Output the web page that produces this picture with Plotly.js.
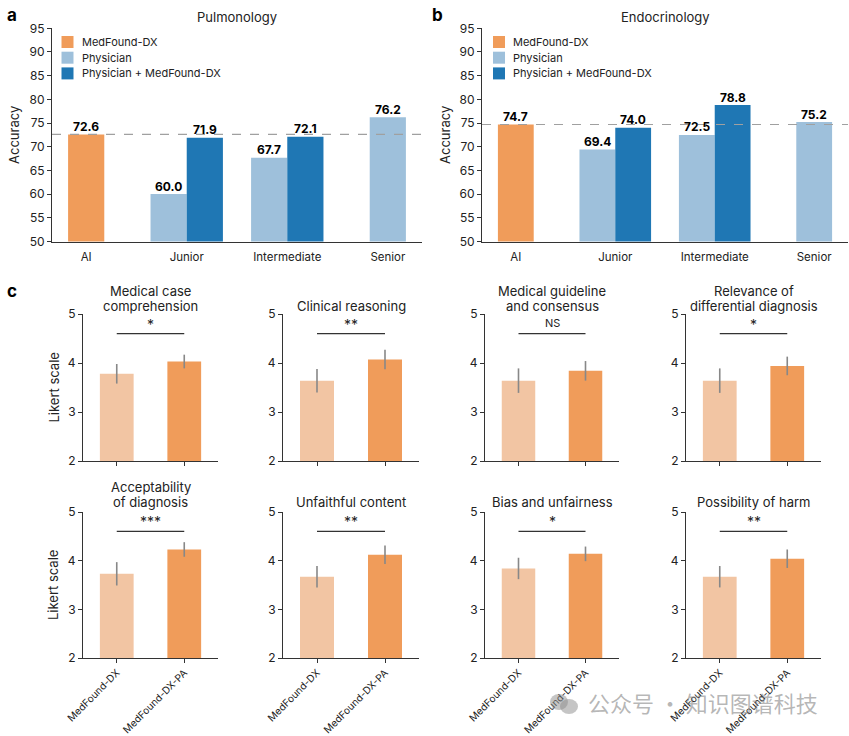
<!DOCTYPE html>
<html>
<head>
<meta charset="utf-8">
<script src="https://cdn.plot.ly/plotly-3.0.1.min.js"></script>
<style>html,body{margin:0;padding:0;background:#fff;}#chart{width:849px;height:736px;}</style>
</head>
<body>
<div id="chart"></div>
<script>
// ---------- Data ----------
const groupCats = ['AI', 'Junior', 'Intermediate', 'Senior'];
const seriesNames = ['MedFound-DX', 'Physician', 'Physician + MedFound-DX'];

const pulmoTitle = 'Pulmonology';
const pulmoAI = [72.6];
const pulmoPhysCats = ['Junior', 'Intermediate', 'Senior'];
const pulmoPhys = [60.0, 67.7, 76.2];
const pulmoComboCats = ['Junior', 'Intermediate'];
const pulmoCombo = [71.9, 72.1];

const endoTitle = 'Endocrinology';
const endoAI = [74.7];
const endoPhysCats = ['Junior', 'Intermediate', 'Senior'];
const endoPhys = [69.4, 72.5, 75.2];
const endoComboCats = ['Junior', 'Intermediate'];
const endoCombo = [74.0, 78.8];

const likertCats = ['MedFound-DX', 'MedFound-DX-PA'];
const criteria = ['Medical case<br>comprehension', 'Clinical reasoning', 'Medical guideline<br>and consensus',
  'Relevance of<br>differential diagnosis', 'Acceptability<br>of diagnosis', 'Unfaithful content',
  'Bias and unfairness', 'Possibility of harm'];
const dxMean = [3.78, 3.64, 3.64, 3.64, 3.73, 3.67, 3.84, 3.67];
const dxErr  = [0.20, 0.24, 0.25, 0.25, 0.24, 0.22, 0.22, 0.22];
const paMean = [4.03, 4.07, 3.84, 3.94, 4.23, 4.12, 4.14, 4.04];
const paErr  = [0.14, 0.20, 0.20, 0.19, 0.15, 0.19, 0.15, 0.19];
const sigLabels = ['*', '**', 'NS', '*', '***', '**', '*', '**'];
const sigLevel = 4.6;

// ---------- Styles ----------
const W = 849, H = 736;
const FONT = 'Inter, "Liberation Sans", Arial, sans-serif';
const C_ORANGE = '#F09C5A';
const C_LORANGE = '#F2C5A3';
const C_LBLUE = '#9EC0DB';
const C_DBLUE = '#1F77B4';
const C_AXIS = '#333333';
const C_TEXT = '#222222';
const seriesColors = [C_ORANGE, C_LBLUE, C_DBLUE];
const px = v => v / W;
const py = v => 1 - v / H;

const traces = [];
const shapes = [];
const annotations = [];
const layout = {
  width: W, height: H,
  margin: {l: 0, r: 0, t: 0, b: 0},
  paper_bgcolor: '#fff', plot_bgcolor: '#fff',
  font: {family: FONT, color: C_TEXT, size: 12},
  barmode: 'overlay',
  showlegend: false,
  shapes: shapes,
  annotations: annotations
};

// ---------- Panels a & b ----------
const BW = 0.36;
function accuracyPanel(idx, xdom, title, ai, physCats, phys, comboCats, combo, letter, letterX, yTitleX, legX) {
  const xa = 'x' + (idx === 1 ? '' : idx), ya = 'y' + (idx === 1 ? '' : idx);
  const series = [
    {cats: ['AI'], vals: ai, offs: [-BW / 2]},
    {cats: physCats, vals: phys, offs: physCats.map(c => comboCats.includes(c) ? -BW : -BW / 2)},
    {cats: comboCats, vals: combo, offs: comboCats.map(() => 0)}
  ];
  series.forEach((s, k) => {
    traces.push({
      type: 'bar', name: seriesNames[k], x: s.cats, y: s.vals, width: BW, offset: s.offs,
      marker: {color: seriesColors[k]}, xaxis: xa, yaxis: ya
    });
    // value labels above bars
    s.cats.forEach((c, j) => {
      annotations.push({
        text: '<b>' + s.vals[j].toFixed(1) + '</b>', xref: xa, yref: ya,
        x: groupCats.indexOf(c) + s.offs[j] + BW / 2, y: s.vals[j], yanchor: 'bottom', xanchor: 'center',
        yshift: -1.5, showarrow: false, font: {size: 12, color: '#000'}
      });
    });
  });
  const xk = 'xaxis' + (idx === 1 ? '' : idx), yk = 'yaxis' + (idx === 1 ? '' : idx);
  layout[xk] = {
    domain: xdom, anchor: ya, type: 'category', categoryorder: 'array', categoryarray: groupCats,
    range: [-0.34, 3.34], showline: true, linecolor: C_AXIS, linewidth: 1,
    ticks: 'outside', ticklen: 5, tickcolor: 'rgba(0,0,0,0)',
    tickfont: {size: 11.5, color: C_TEXT}, showgrid: false, zeroline: false, fixedrange: true
  };
  layout[yk] = {
    domain: [py(241.5), py(28.3)], anchor: xa, range: [50, 95], dtick: 5, tick0: 50,
    showline: true, linecolor: C_AXIS, linewidth: 1, ticks: 'outside', ticklen: 4, tickcolor: C_AXIS,
    tickfont: {size: 12, color: C_TEXT}, showgrid: false, zeroline: false, fixedrange: true
  };
  shapes.push({type: 'line', xref: xa + ' domain', yref: ya, x0: 0, x1: 1, y0: ai[0], y1: ai[0],
    line: {color: '#a0a0a0', width: 1.2, dash: 'dash'}, layer: 'above'});
  annotations.push({text: title, xref: 'paper', yref: 'paper', x: (xdom[0] + xdom[1]) / 2, y: py(17),
    showarrow: false, font: {size: 13, color: C_TEXT}, xanchor: 'center', yanchor: 'middle'});
  annotations.push({text: '<b>' + letter + '</b>', xref: 'paper', yref: 'paper', x: px(letterX), y: py(15),
    showarrow: false, font: {size: 17, color: '#000'}, xanchor: 'center', yanchor: 'middle'});
  annotations.push({text: 'Accuracy', xref: 'paper', yref: 'paper', x: px(yTitleX), y: py(135), textangle: -90,
    showarrow: false, font: {size: 13, color: C_TEXT}, xanchor: 'center', yanchor: 'middle'});
  // legend (swatches + labels)
  seriesNames.forEach((nm, k) => {
    const cy = 42 + k * 15.7;
    shapes.push({type: 'rect', xref: 'paper', yref: 'paper', x0: px(legX), x1: px(legX + 12),
      y0: py(cy + 6), y1: py(cy - 6), fillcolor: seriesColors[k], line: {width: 0}});
    annotations.push({text: nm, xref: 'paper', yref: 'paper', x: px(legX + 18), y: py(cy),
      showarrow: false, xanchor: 'left', yanchor: 'middle', font: {size: 11, color: C_TEXT}});
  });
}
accuracyPanel(1, [px(52), px(422)], pulmoTitle, pulmoAI, pulmoPhysCats, pulmoPhys, pulmoComboCats, pulmoCombo, 'a', 12, 14, 61.5);
accuracyPanel(2, [px(482), px(848)], endoTitle, endoAI, endoPhysCats, endoPhys, endoComboCats, endoCombo, 'b', 437, 445, 493);

// ---------- Panel c ----------
const colX = [[83, 218], [283, 419], [485, 619], [686, 821]];
const rowY = [[314, 461], [512, 658]];
const titleY2 = [[291, 306], [487, 502]];
criteria.forEach((crit, i) => {
  const idx = i + 3;
  const r = Math.floor(i / 4), c = i % 4;
  const xa = 'x' + idx, ya = 'y' + idx;
  traces.push({
    type: 'bar', x: likertCats, y: [dxMean[i], paMean[i]], width: 0.5,
    marker: {color: [C_LORANGE, C_ORANGE]}, xaxis: xa, yaxis: ya, showlegend: false,
    error_y: {type: 'data', array: [dxErr[i], paErr[i]], color: '#888888', thickness: 1.6, width: 0},
    hoverinfo: 'x+y'
  });
  layout['xaxis' + idx] = {
    domain: [px(colX[c][0]), px(colX[c][1])], anchor: ya, type: 'category',
    categoryorder: 'array', categoryarray: likertCats, range: [-0.5, 1.5],
    showline: true, linecolor: C_AXIS, linewidth: 1, ticks: 'outside', ticklen: 4, tickcolor: C_AXIS,
    showticklabels: r === 1, tickangle: -45, tickfont: {size: 10, color: C_TEXT},
    showgrid: false, zeroline: false, fixedrange: true
  };
  layout['yaxis' + idx] = {
    domain: [py(rowY[r][1]), py(rowY[r][0])], anchor: xa, range: [2, 5], dtick: 1, tick0: 2,
    showline: true, linecolor: C_AXIS, linewidth: 1, ticks: 'outside', ticklen: 4, tickcolor: C_AXIS,
    tickfont: {size: 12, color: C_TEXT}, showgrid: false, zeroline: false, fixedrange: true
  };
  shapes.push({type: 'line', xref: xa, yref: ya, x0: 0, x1: 1, y0: sigLevel, y1: sigLevel,
    line: {color: '#333', width: 1.2}});
  const isNS = sigLabels[i] === 'NS';
  annotations.push({text: sigLabels[i], xref: xa, yref: ya, x: 0.5, y: sigLevel, yshift: isNS ? 2 : -1,
    showarrow: false, xanchor: 'center', yanchor: 'bottom',
    font: {size: isNS ? 11 : 14, color: C_TEXT}});
  const lines = crit.split('<br>');
  const cx = px((colX[c][0] + colX[c][1]) / 2);
  if (lines.length === 2) {
    annotations.push({text: lines[0], xref: 'paper', yref: 'paper', x: cx, y: py(titleY2[r][0]),
      showarrow: false, xanchor: 'center', yanchor: 'middle', font: {size: 13, color: C_TEXT}});
    annotations.push({text: lines[1], xref: 'paper', yref: 'paper', x: cx, y: py(titleY2[r][1]),
      showarrow: false, xanchor: 'center', yanchor: 'middle', font: {size: 13, color: C_TEXT}});
  } else {
    annotations.push({text: lines[0], xref: 'paper', yref: 'paper', x: cx, y: py(titleY2[r][1]),
      showarrow: false, xanchor: 'center', yanchor: 'middle', font: {size: 13, color: C_TEXT}});
  }
  if (c === 0) {
    annotations.push({text: 'Likert scale', xref: 'paper', yref: 'paper', x: px(53),
      y: py((rowY[r][0] + rowY[r][1]) / 2), textangle: -90, showarrow: false,
      xanchor: 'center', yanchor: 'middle', font: {size: 13, color: C_TEXT}});
  }
});
annotations.push({text: '<b>c</b>', xref: 'paper', yref: 'paper', x: px(12), y: py(291),
  showarrow: false, font: {size: 17, color: '#000'}, xanchor: 'center', yanchor: 'middle'});

// watermark
annotations.push({text: '公众号 · 知识图谱科技', xref: 'paper', yref: 'paper', x: px(703), y: py(702),
  showarrow: false, xanchor: 'center', yanchor: 'middle',
  font: {family: '"Noto Sans CJK SC", sans-serif', size: 22, color: 'rgba(120,120,120,0.55)'}});
shapes.push({type: 'circle', xref: 'paper', yref: 'paper', x0: px(550), x1: px(568), y0: py(710), y1: py(694),
  fillcolor: 'rgba(140,140,140,0.5)', line: {width: 0}});
shapes.push({type: 'circle', xref: 'paper', yref: 'paper', x0: px(560), x1: px(578), y0: py(714), y1: py(699),
  fillcolor: 'rgba(140,140,140,0.5)', line: {width: 0}});

Plotly.newPlot('chart', traces, layout, {displayModeBar: false, staticPlot: true});
</script>
</body>
</html>
